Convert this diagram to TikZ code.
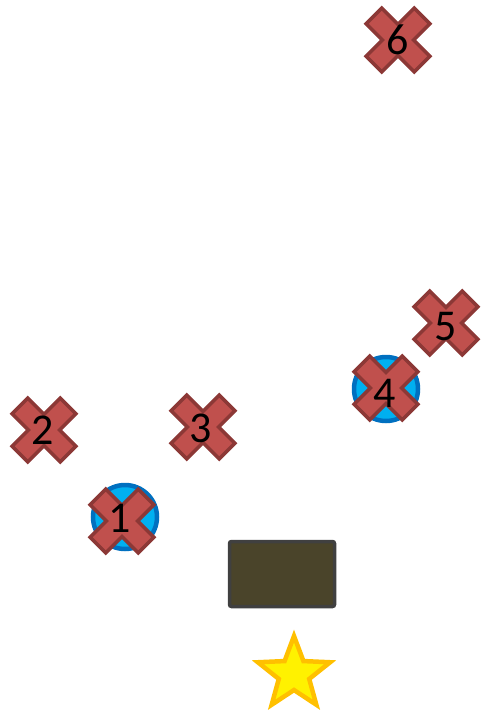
\documentclass[tikz,border=0pt]{standalone}
\usepackage{fontspec}
\setmainfont{Carlito}
\definecolor{xfill}{HTML}{C0504D}
\definecolor{xline}{HTML}{8C3836}
\definecolor{cfill}{HTML}{00B0F0}
\definecolor{cline}{HTML}{0070C0}
\definecolor{rfill}{HTML}{4A442A}
\definecolor{rline}{HTML}{404040}
\definecolor{sline}{HTML}{FFC000}
\tikzset{
  crossmark/.pic={
    \draw[xline, fill=xfill, line width=3.5pt, line join=miter, rotate=45]
      (34,11) -- (11,11) -- (11,34) -- (-11,34) -- (-11,11) -- (-34,11) --
      (-34,-11) -- (-11,-11) -- (-11,-34) -- (11,-34) -- (11,-11) -- (34,-11) -- cycle;
  },
  numlabel/.style={font=\fontsize{44}{44}\selectfont, inner sep=0pt, text=black},
  blueball/.style={circle, draw=cline, fill=cfill, line width=4.5pt, minimum size=64pt, inner sep=0pt},
}
\begin{document}
\begin{tikzpicture}[x=1pt,y=-1pt]
\useasboundingbox (0,0) rectangle (481,712);
% blue circles
\node[blueball] (b1) at (125,517) {};
\node[blueball] (b4) at (386,389) {};
% crosses
\pic at (398,40) {crossmark};
\pic at (446,323) {crossmark};
\pic at (386,388) {crossmark};
\pic at (44,430) {crossmark};
\pic at (203,427) {crossmark};
\pic at (122,521) {crossmark};
% labels
\node[numlabel] (n6) at (398,40) {6};
\node[numlabel] (n5) at (446,327) {5};
\node[numlabel] (n4) at (385,393) {4};
\node[numlabel] (n2) at (43,430) {2};
\node[numlabel] (n3) at (201,428) {3};
\node[numlabel] (n1) at (120,518) {1};
% rectangle
\node[draw=rline, fill=rfill, line width=3.5pt, rounded corners=2pt,
      minimum width=105pt, minimum height=65pt, inner sep=0pt] (box) at (282,574) {};
% star
\begin{scope}[shift={(294,674)}]
\draw[sline, fill=yellow, line width=4.5pt, line join=miter]
  (270:38) -- (306:16) -- (342:38) -- (18:16) -- (54:38) -- (90:16) --
  (126:38) -- (162:16) -- (198:38) -- (234:16) -- cycle;
\end{scope}
\end{tikzpicture}
\end{document}
